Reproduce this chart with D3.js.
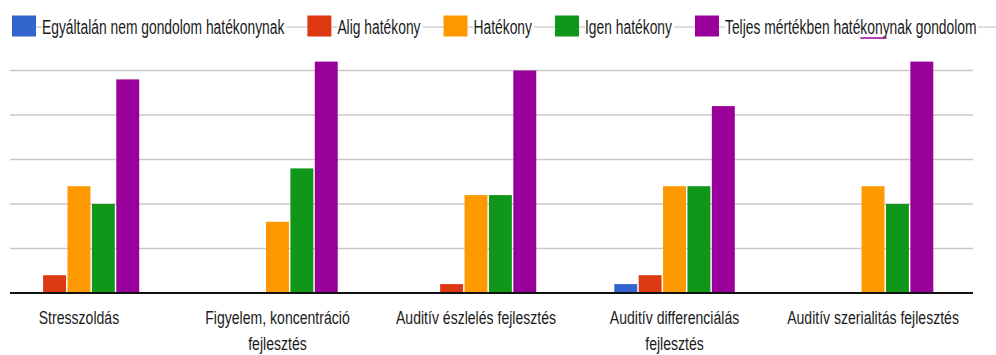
<!DOCTYPE html>
<html lang="hu">
<head>
<meta charset="utf-8"/>
<title>Hatékonyság</title>
<script src="https://d3js.org/d3.v7.min.js"></script>
<style>
  body { margin: 0; background: #fff; }
  svg { display: block; font-family: "Liberation Sans", Arial, sans-serif; }
</style>
</head>
<body>
<div id="chart"></div>
<script>
// categories and their wrapped tick labels
var categories = ["Stresszoldás", "Figyelem, koncentráció fejlesztés", "Auditív észlelés fejlesztés",
                  "Auditív differenciálás fejlesztés", "Auditív szerialitás fejlesztés"];
var tickLabels = [["Stresszoldás"], ["Figyelem, koncentráció", "fejlesztés"], ["Auditív észlelés fejlesztés"],
                  ["Auditív differenciálás", "fejlesztés"], ["Auditív szerialitás fejlesztés"]];

// series names
var seriesNames = ["Egyáltalán nem gondolom hatékonynak", "Alig hatékony", "Hatékony",
                   "Igen hatékony", "Teljes mértékben hatékonynak gondolom"];

// series values (one per category)
var notAtAll      = [0, 0, 0, 1, 0];
var barely        = [2, 0, 1, 2, 0];
var effective     = [12, 8, 11, 12, 12];
var veryEffective = [10, 14, 11, 12, 10];
var fully         = [24, 26, 25, 21, 26];

var yTicks = [0, 5, 10, 15, 20, 25];

var colors = ["#3366cc", "#dc3912", "#ff9900", "#109618", "#990099"];

var seriesValues = [notAtAll, barely, effective, veryEffective, fully];

var width = 996, height = 355;
var plotLeft = -20.3, plotRight = 972.3;   // left axis is cropped out of view
var gridLeft = 10, gridRight = 973;
var baseY = 293, topY = 70.5;

var svg = d3.select("#chart").append("svg")
  .attr("width", width)
  .attr("height", height);

var x = d3.scaleBand()
  .domain(categories)
  .range([plotLeft, plotRight])
  .paddingInner(0.393)
  .paddingOuter(0.1965);

var xs = d3.scaleBand()
  .domain(seriesNames)
  .range([0, x.bandwidth()])
  .paddingInner(0.06)
  .paddingOuter(0);

var y = d3.scaleLinear()
  .domain([0, 25])
  .range([baseY, topY]);

// gridlines
svg.append("g").selectAll("line")
  .data(yTicks.filter(function(d){ return d > 0; }))
  .enter().append("line")
  .attr("x1", gridLeft).attr("x2", gridRight)
  .attr("y1", function(d){ return y(d); })
  .attr("y2", function(d){ return y(d); })
  .attr("stroke", "#c9c9c9")
  .attr("stroke-width", 1.5);

// bars
var rows = [];
categories.forEach(function(c, i){
  seriesNames.forEach(function(s, j){
    rows.push({ cat: c, series: s, value: seriesValues[j][i], color: colors[j] });
  });
});

svg.append("g").selectAll("rect")
  .data(rows.filter(function(d){ return d.value > 0; }))
  .enter().append("rect")
  .attr("x", function(d){ return x(d.cat) + xs(d.series); })
  .attr("width", xs.bandwidth())
  .attr("y", function(d){ return y(d.value); })
  .attr("height", function(d){ return y(0) - y(d.value); })
  .attr("fill", function(d){ return d.color; });

// baseline
svg.append("line")
  .attr("x1", gridLeft).attr("x2", gridRight)
  .attr("y1", y(0)).attr("y2", y(0))
  .attr("stroke", "#111")
  .attr("stroke-width", 2);

// x tick labels
var xLabels = svg.append("g");
categories.forEach(function(c, i){
  var cx = x(c) + x.bandwidth() / 2;
  tickLabels[i].forEach(function(line, k){
    xLabels.append("text")
      .attr("transform", "translate(" + cx + "," + (324 + k * 26) + ") scale(0.74,1)")
      .attr("text-anchor", "middle")
      .attr("font-size", "19px")
      .attr("fill", "#1a1a1a")
      .text(line);
  });
});

// legend
var legend = svg.append("g");
var lx = 12, ly = 27, sq = 24, ls = 0.71;
seriesNames.forEach(function(s, j){
  legend.append("rect")
    .attr("x", lx).attr("y", 15.5)
    .attr("width", sq).attr("height", 21)
    .attr("fill", colors[j]);
  legend.append("line")
    .attr("x1", lx + sq).attr("x2", lx + sq + 6)
    .attr("y1", ly).attr("y2", ly)
    .attr("stroke", "#bbb");
  var t = legend.append("text")
    .attr("transform", "translate(" + (lx + sq + 6) + ",34) scale(" + ls + ",1)")
    .attr("font-size", "19.5px")
    .attr("fill", "#1a1a1a")
    .text(s);
  var w = t.node().getComputedTextLength() * ls;
  var end = lx + sq + 6 + w;
  var next = j < seriesNames.length - 1 ? end + 23 : width;
  legend.append("line")
    .attr("x1", end + 2).attr("x2", next)
    .attr("y1", ly).attr("y2", ly)
    .attr("stroke", "#bbb");
  if (j === seriesNames.length - 1) {
    // small purple mark under "kony"
    var a = t.node().getSubStringLength(0, s.indexOf("kony")) * ls;
    var b = t.node().getSubStringLength(0, s.indexOf("kony") + 4) * ls;
    legend.append("line")
      .attr("x1", lx + sq + 6 + a).attr("x2", lx + sq + 6 + b - 3)
      .attr("y1", 38).attr("y2", 38)
      .attr("stroke", colors[4]).attr("stroke-width", 1.5);
  }
  lx = next;
});
</script>
</body>
</html>
